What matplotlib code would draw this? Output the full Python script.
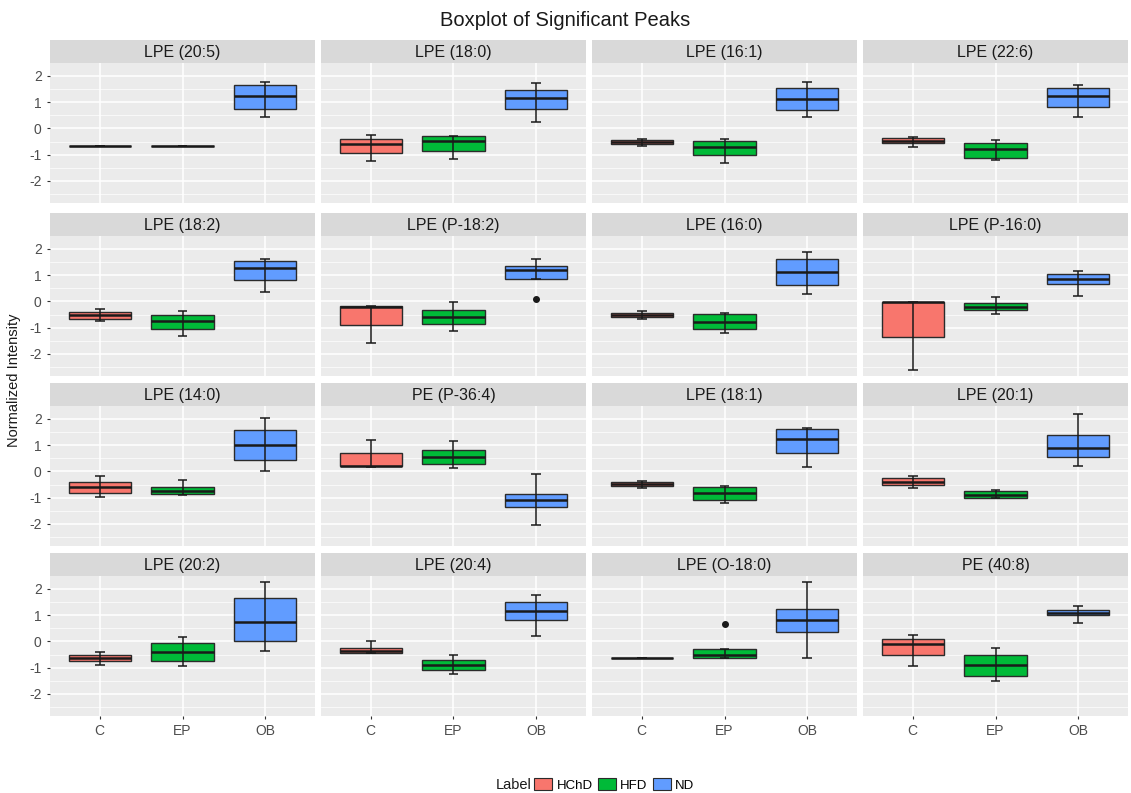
import matplotlib
matplotlib.use("Agg")
import matplotlib.pyplot as plt
from matplotlib.patches import Patch
import numpy as np

plt.rcParams['font.family'] = ['Liberation Sans', 'DejaVu Sans']

# Facet titles, in row-major order
panel_titles = [
    "LPE (20:5)", "LPE (18:0)", "LPE (16:1)", "LPE (22:6)",
    "LPE (18:2)", "LPE (P-18:2)", "LPE (16:0)", "LPE (P-16:0)",
    "LPE (14:0)", "PE (P-36:4)", "LPE (18:1)", "LPE (20:1)",
    "LPE (20:2)", "LPE (20:4)", "LPE (O-18:0)", "PE (40:8)",
]
groups = ["C", "EP", "OB"]
labels = ["HChD", "HFD", "ND"]
colors = ["#F8766D", "#00BA38", "#619CFF"]

# Five-number summaries per facet: [C, EP, OB]
whisker_lo = [
    [-0.68, -0.68, 0.42], [-1.23, -1.16, 0.25], [-0.67, -1.31, 0.43], [-0.69, -1.21, 0.42],
    [-0.76, -1.32, 0.35], [-1.57, -1.13, 0.84], [-0.67, -1.19, 0.27], [-2.60, -0.47, 0.20],
    [-0.99, -0.89, 0.00], [0.17, 0.13, -2.05], [-0.63, -1.20, 0.15], [-0.63, -1.01, 0.22],
    [-0.88, -0.95, -0.35], [-0.45, -1.25, 0.20], [-0.65, -0.65, -0.65], [-0.95, -1.50, 0.70],
]
q1 = [
    [-0.68, -0.68, 0.75], [-0.94, -0.86, 0.75], [-0.59, -1.00, 0.69], [-0.57, -1.11, 0.82],
    [-0.66, -1.04, 0.82], [-0.91, -0.87, 0.84], [-0.60, -1.05, 0.61], [-1.36, -0.34, 0.65],
    [-0.82, -0.85, 0.42], [0.20, 0.28, -1.35], [-0.54, -1.08, 0.70], [-0.51, -1.01, 0.53],
    [-0.75, -0.75, 0.00], [-0.45, -1.10, 0.80], [-0.65, -0.65, 0.35], [-0.50, -1.30, 1.00],
]
median = [
    [-0.68, -0.68, 1.22], [-0.59, -0.48, 1.17], [-0.50, -0.69, 1.13], [-0.48, -0.79, 1.23],
    [-0.51, -0.75, 1.27], [-0.21, -0.60, 1.18], [-0.52, -0.79, 1.11], [-0.04, -0.22, 0.86],
    [-0.61, -0.76, 1.02], [0.22, 0.55, -1.10], [-0.48, -0.82, 1.24], [-0.40, -0.89, 0.89],
    [-0.65, -0.40, 0.75], [-0.35, -0.90, 1.15], [-0.65, -0.50, 0.80], [-0.10, -0.90, 1.10],
]
q3 = [
    [-0.68, -0.68, 1.64], [-0.42, -0.29, 1.48], [-0.44, -0.48, 1.55], [-0.38, -0.54, 1.54],
    [-0.41, -0.53, 1.53], [-0.19, -0.34, 1.34], [-0.43, -0.49, 1.60], [-0.03, -0.06, 1.03],
    [-0.40, -0.61, 1.59], [0.70, 0.83, -0.85], [-0.42, -0.59, 1.62], [-0.25, -0.73, 1.40],
    [-0.53, -0.05, 1.65], [-0.25, -0.70, 1.50], [-0.65, -0.30, 1.25], [0.10, -0.50, 1.20],
]
whisker_hi = [
    [-0.68, -0.68, 1.76], [-0.25, -0.28, 1.72], [-0.40, -0.42, 1.78], [-0.34, -0.45, 1.67],
    [-0.28, -0.38, 1.62], [-0.16, -0.03, 1.62], [-0.38, -0.43, 1.90], [-0.03, 0.16, 1.15],
    [-0.19, -0.32, 2.03], [1.18, 1.14, -0.10], [-0.38, -0.57, 1.67], [-0.16, -0.70, 2.18],
    [-0.40, 0.15, 2.25], [0.00, -0.50, 1.75], [-0.65, -0.30, 2.25], [0.25, -0.25, 1.35],
]
# Points beyond the whiskers: (facet index, group index, value)
outliers = [(5, 2, 0.08), (14, 1, 0.65)]

W, H = 1131, 793
fig = plt.figure(figsize=(W / 100, H / 100), dpi=100)

all_vals = np.concatenate([np.ravel(whisker_lo), np.ravel(whisker_hi), [o[2] for o in outliers]])
span = all_vals.max() - all_vals.min()
ylim = (all_vals.min() - 0.05 * span, all_vals.max() + 0.05 * span)

left0, panel_w, gap_x = 50, 265, 6
row_tops = [40, 213, 383, 553]
strip_h, panel_h = 23, 140

tick_color = "#4D4D4D"
box_w = 0.75
cap_w = 0.12

for i, title in enumerate(panel_titles):
    r, c = divmod(i, 4)
    x0 = left0 + c * (panel_w + gap_x)
    top = row_tops[r]
    ax = fig.add_axes([x0 / W, 1 - (top + strip_h + panel_h) / H, panel_w / W, panel_h / H])
    sax = fig.add_axes([x0 / W, 1 - (top + strip_h) / H, panel_w / W, strip_h / H])
    sax.set_facecolor("#D9D9D9")
    sax.set_xticks([]); sax.set_yticks([])
    for s in sax.spines.values():
        s.set_visible(False)
    sax.text(0.5, 0.45, title, ha="center", va="center", fontsize=11.5,
             color="#1A1A1A", transform=sax.transAxes)

    ax.set_facecolor("#EBEBEB")
    for s in ax.spines.values():
        s.set_visible(False)
    ax.set_xlim(0.4, 3.6)
    ax.set_ylim(*ylim)
    ax.set_yticks([-2, -1, 0, 1, 2])
    ax.set_yticks([-2.5, -1.5, -0.5, 0.5, 1.5], minor=True)
    ax.set_xticks([1, 2, 3])
    ax.grid(True, which="major", color="white", linewidth=1.1)
    ax.grid(True, which="minor", axis="y", color="white", linewidth=0.5)
    ax.set_axisbelow(True)
    ax.tick_params(which="both", length=0)
    ax.tick_params(which="major", length=2.5, color="#333333")
    if c == 0:
        ax.set_yticklabels([str(v) for v in [-2, -1, 0, 1, 2]], fontsize=10, color=tick_color)
    else:
        ax.set_yticklabels([])
        ax.tick_params(axis="y", length=0)
    if r == 3:
        ax.set_xticklabels(groups, fontsize=10, color=tick_color)
    else:
        ax.set_xticklabels([])
        ax.tick_params(axis="x", length=0)

    stats = []
    for g in range(3):
        stats.append(dict(med=median[i][g], q1=q1[i][g], q3=q3[i][g],
                          whislo=whisker_lo[i][g], whishi=whisker_hi[i][g],
                          fliers=[o[2] for o in outliers if o[0] == i and o[1] == g]))
    bp = ax.bxp(stats, positions=[1, 2, 3], widths=box_w, patch_artist=True,
                showcaps=False, manage_ticks=False,
                boxprops=dict(linewidth=1.0, edgecolor="#2B2B2B"),
                medianprops=dict(color="#1A1A1A", linewidth=1.8),
                whiskerprops=dict(linewidth=0),
                flierprops=dict(marker="o", markersize=4, markerfacecolor="#1A1A1A",
                                markeredgecolor="#1A1A1A"))
    for patch, col in zip(bp["boxes"], colors):
        patch.set_facecolor(col)
        patch.set_alpha(None)
    # error-bar style whiskers drawn through the box
    for g in range(3):
        xg = g + 1
        ax.vlines(xg, whisker_lo[i][g], whisker_hi[i][g], color="#1A1A1A", linewidth=1.1, zorder=5)
        ax.hlines([whisker_lo[i][g], whisker_hi[i][g]], xg - cap_w / 2, xg + cap_w / 2,
                  color="#1A1A1A", linewidth=1.1, zorder=5)

fig.text(0.5, 1 - 20 / H, "Boxplot of Significant Peaks", ha="center", va="center",
         fontsize=14.5, color="#1A1A1A")
fig.text(14 / W, 1 - 380 / H, "Normalized Intensity", ha="center", va="center",
         rotation=90, fontsize=10.5, color="#1A1A1A")

handles = [Patch(facecolor=col, edgecolor="#2B2B2B", linewidth=0.8) for col in colors]
fig.text(532 / W, 1 - 785 / H, "Label", ha="right", va="center", fontsize=10.5, color="#1A1A1A")
fig.legend(handles, labels, loc="center left", bbox_to_anchor=(534 / W, 1 - 785 / H),
           ncol=3, frameon=False, fontsize=9.5, handlelength=1.4, handleheight=1.0,
           handletextpad=0.3, columnspacing=0.4, borderaxespad=0, borderpad=0)

fig.savefig("out.png", dpi=100, facecolor="white")
